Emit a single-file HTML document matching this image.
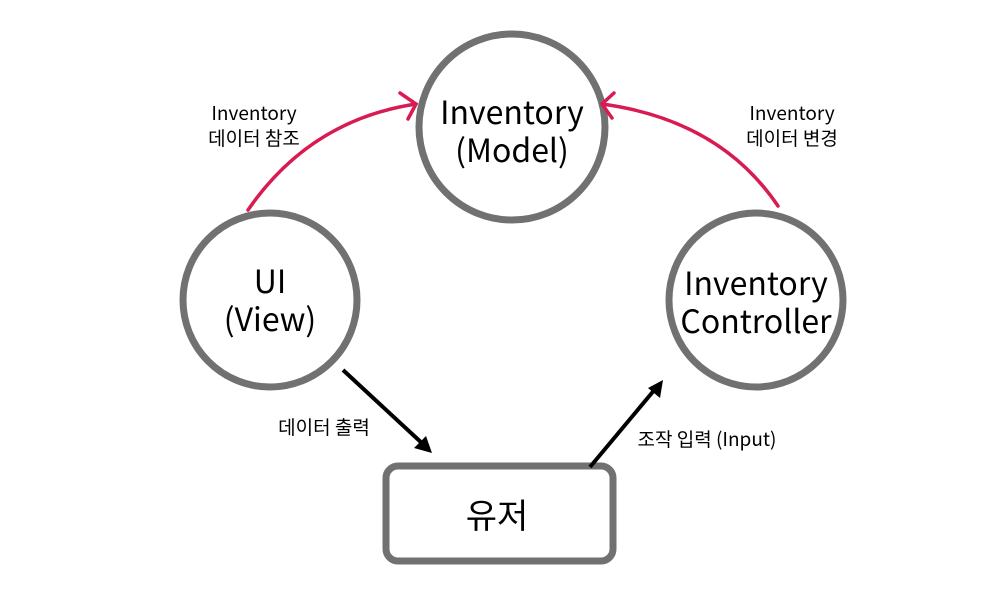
<!DOCTYPE html>
<html><head><meta charset="utf-8"><style>
body{margin:0;background:#fff;}
svg text{font-family:"Noto Sans CJK KR","Liberation Sans",sans-serif;fill:#000;text-anchor:middle;}
</style></head><body>
<svg width="1000" height="600" viewBox="0 0 1000 600" xmlns="http://www.w3.org/2000/svg">
<g fill="#fff" stroke="#717171" stroke-width="7">
<circle cx="512" cy="127" r="93"/>
<circle cx="270" cy="300" r="87"/>
<circle cx="756" cy="300" r="87"/>
<rect x="386" y="466" width="227" height="95" rx="12"/>
</g>
<g fill="none" stroke="#d81b50" stroke-width="3.5" stroke-linecap="round">
<path d="M248,210 Q310,120 416,104"/>
<path d="M400,93 L416,104 L408,119"/>
<path d="M778,206 Q720,120 602,104"/>
<path d="M614,93 L602,104 L612,118"/>
</g>
<g stroke="#000" stroke-width="4" fill="none">
<line x1="343" y1="370" x2="424" y2="445"/>
<line x1="590" y1="467" x2="656" y2="388"/>
</g>
<polygon points="432,453 414,448 426,436" fill="#000"/>
<polygon points="663,380 660,398 648,388" fill="#000"/>
<text x="512" y="124" font-size="32">Inventory</text>
<text x="512" y="162" font-size="32">(Model)</text>
<text x="270" y="293" font-size="32">UI</text>
<text x="270" y="331" font-size="32">(View)</text>
<text x="756" y="295" font-size="32">Inventory</text>
<text x="756" y="333" font-size="32">Controller</text>
<text x="497" y="528" font-size="34">유저</text>
<text x="254" y="120" font-size="19">Inventory</text>
<text x="254" y="145" font-size="19">데이터 참조</text>
<text x="792" y="120" font-size="19">Inventory</text>
<text x="792" y="145" font-size="19">데이터 변경</text>
<text x="324" y="434" font-size="19">데이터 출력</text>
<text x="707" y="446" font-size="19">조작 입력 (Input)</text>
</svg>
</body></html>
